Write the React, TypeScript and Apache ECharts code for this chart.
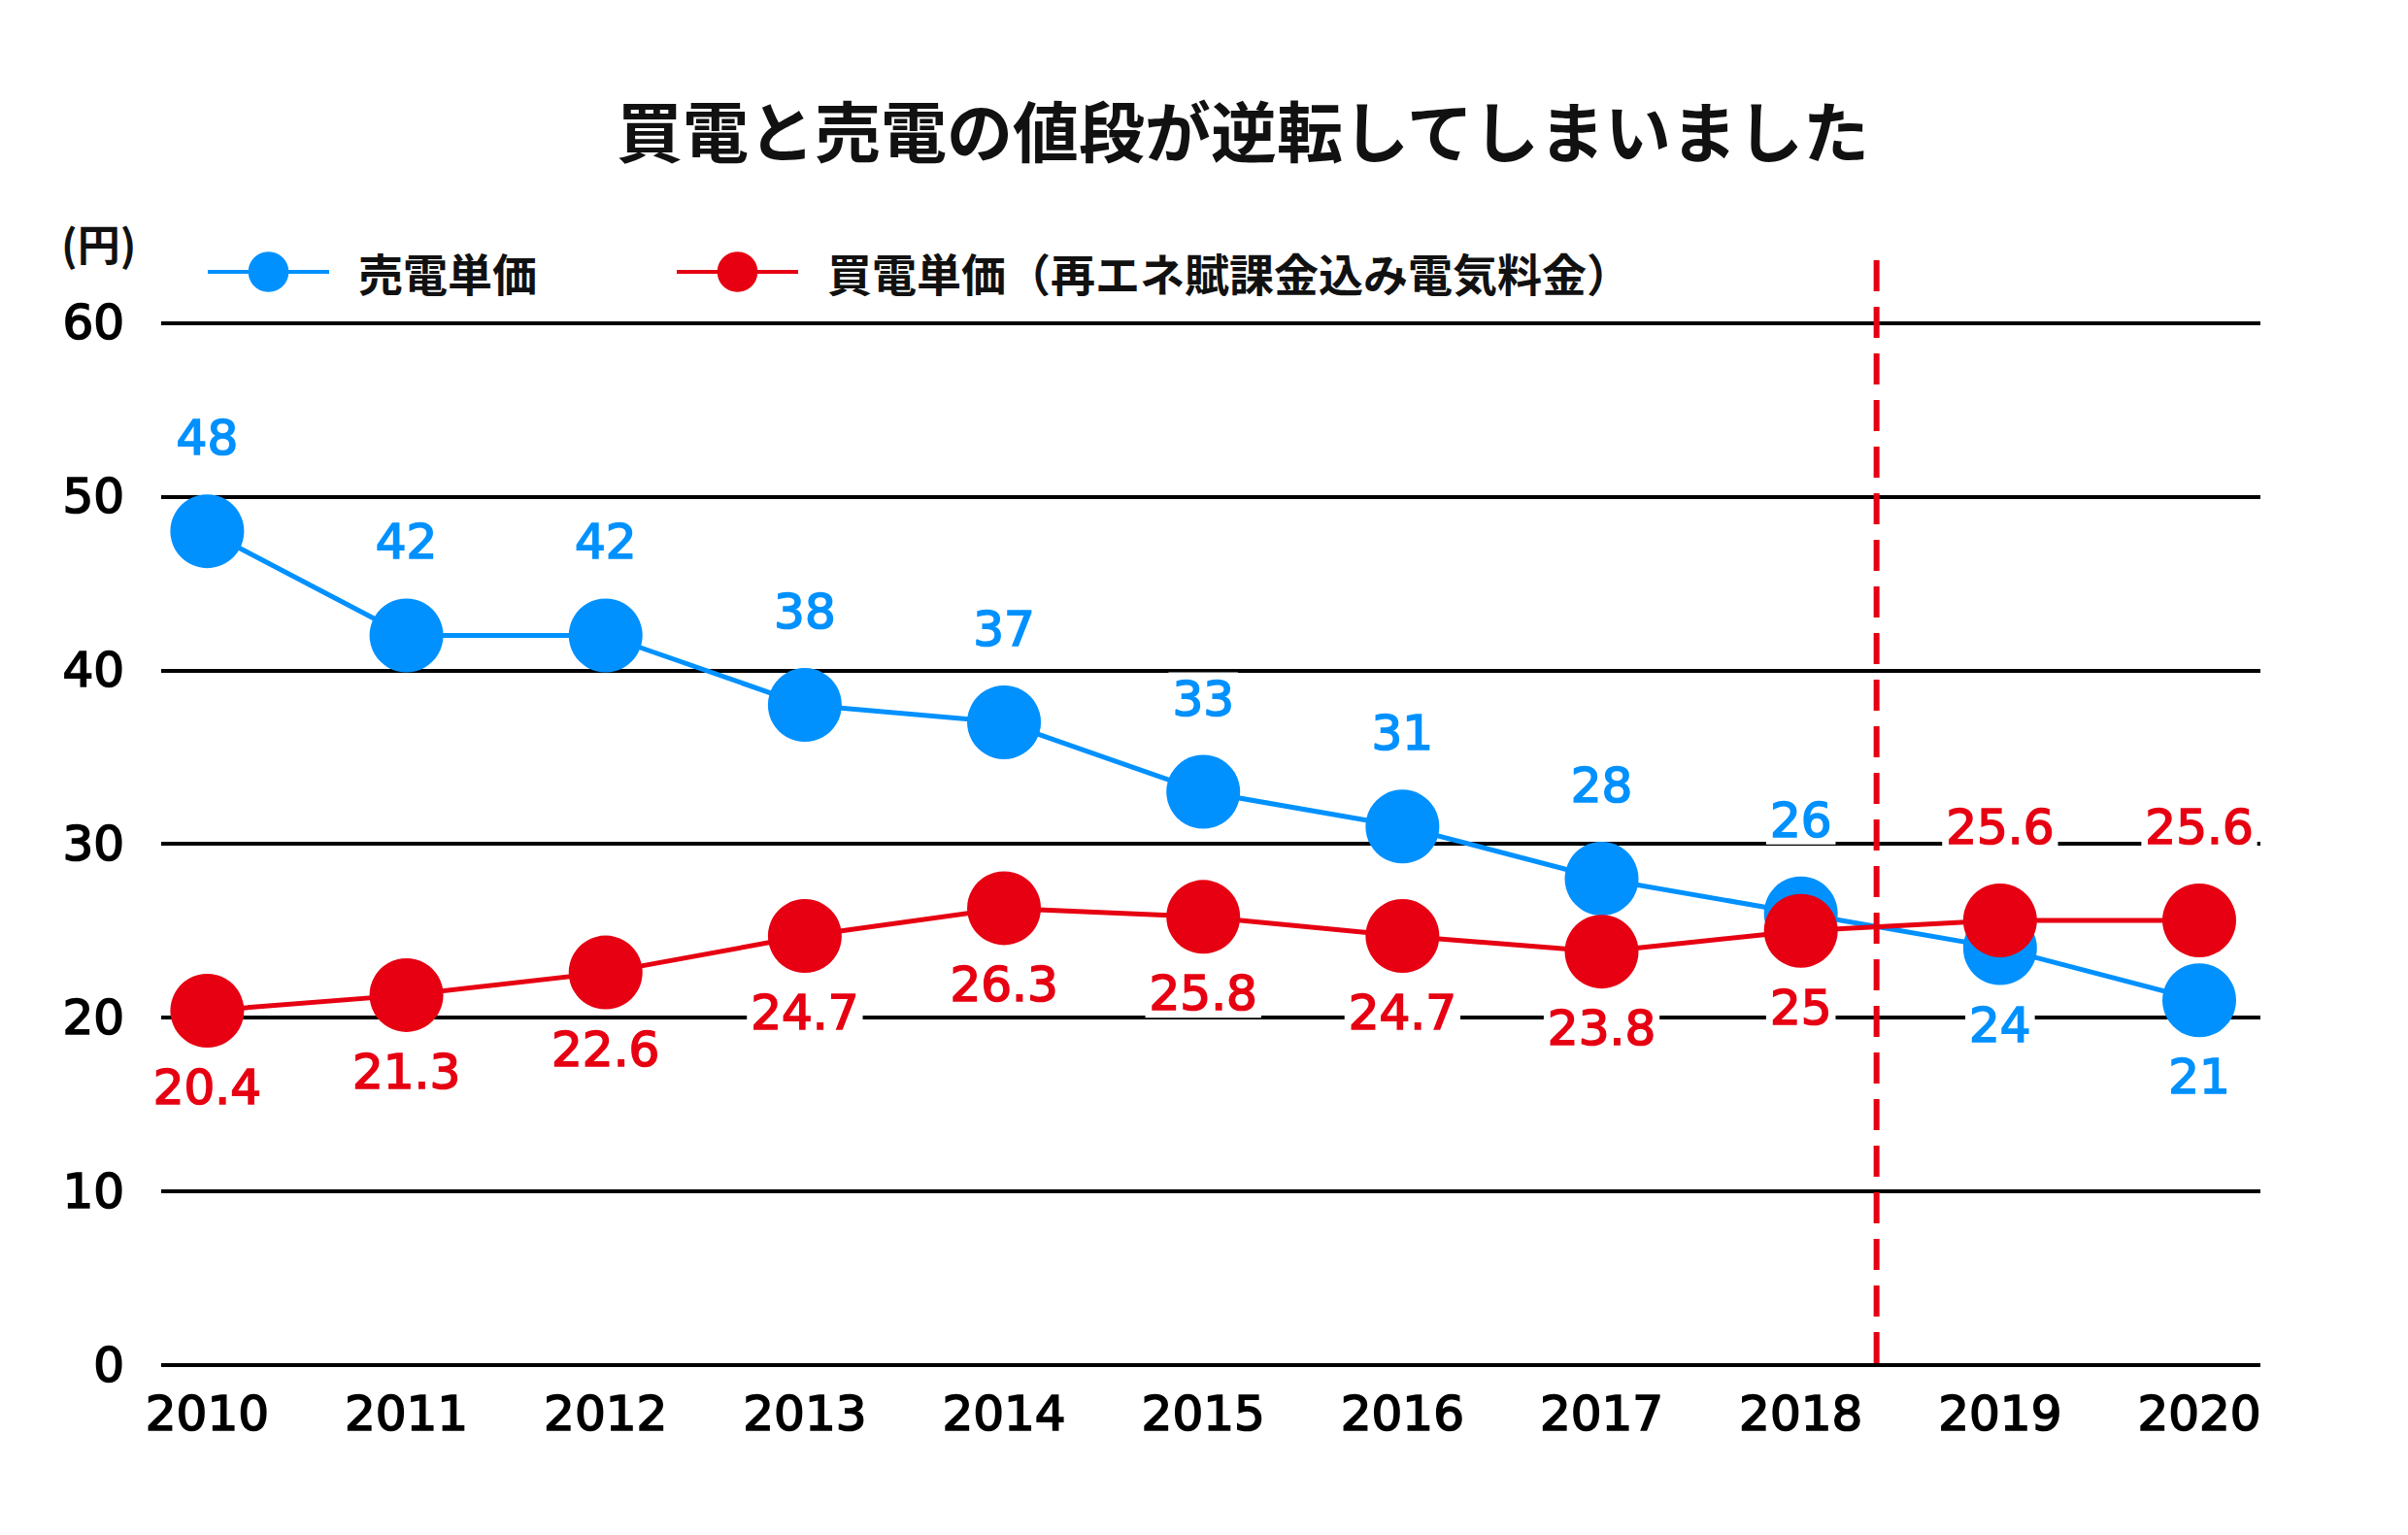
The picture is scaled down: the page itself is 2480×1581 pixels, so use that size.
import React, { useEffect, useRef } from "react";
import * as echarts from "echarts";

// ---- data ----
const years = ["2010", "2011", "2012", "2013", "2014", "2015", "2016", "2017", "2018", "2019", "2020"];
const sellPrice = [48, 42, 42, 38, 37, 33, 31, 28, 26, 24, 21];
const buyPrice = [20.4, 21.3, 22.6, 24.7, 26.3, 25.8, 24.7, 23.8, 25, 25.6, 25.6];
const yTicks = [0, 10, 20, 30, 40, 50, 60];
const dividerAt = 8.38; // between 2018 and 2019, in category-index units
const sellName = "売電単価";
const buyName = "買電単価（再エネ賦課金込み電気料金）";
const titleText = "買電と売電の値段が逆転してしまいました";
const unitText = "(円)";

const BLUE = "#0091FF";
const RED = "#E60012";
const FONT = "'Noto Sans CJK JP', 'Noto Sans', sans-serif";
const NUM_FONT = "'DejaVu Sans', 'Liberation Sans', sans-serif";
const EMBOLDEN = 1.7;

export default function App() {
  const ref = useRef<HTMLDivElement>(null);

  useEffect(() => {
    if (!ref.current) return;
    const chart = echarts.init(ref.current, undefined, { renderer: "svg" });
    const yTop = 63.6;

    const labelBase = {
      show: true,
      fontSize: 50,
      fontFamily: NUM_FONT,
      fontWeight: "normal",
      backgroundColor: "#fff",
      padding: [2, 4, 0, 4],
      textBorderWidth: EMBOLDEN,
      formatter: (p: any) => String(p.value[1]),
    };
    const TOP_D = 33;
    const BOTTOM_D = 14;

    chart.setOption({
      animation: false,
      backgroundColor: "#fff",
      textStyle: { fontFamily: FONT },
      title: {
        text: titleText,
        left: 635,
        top: 98,
        padding: 0,
        textStyle: { fontSize: 68, fontWeight: "bold", color: "#111", fontFamily: FONT },
      },
      legend: {
        data: [sellName, buyName],
        left: 212,
        top: 257,
        padding: 0,
        itemWidth: 125,
        itemHeight: 52,
        itemGap: 142,
        lineStyle: { width: 4 },
        textStyle: {
          fontSize: 46,
          fontWeight: "bold",
          color: "#111",
          fontFamily: FONT,
          padding: [0, 0, 0, 25],
        },
      },
      graphic: [
        {
          type: "text",
          left: 63,
          top: 228,
          style: { text: unitText, fontSize: 44, fontWeight: "bold", fill: "#111", fontFamily: FONT },
        },
      ],
      grid: { left: 166, right: 152, top: 268, bottom: 175 },
      xAxis: {
        type: "value",
        min: -0.231,
        max: 10.307,
        splitLine: { show: false },
        axisLine: { show: false },
        axisTick: { show: false },
        axisLabel: {
          customValues: years.map((_, i) => i),
          formatter: (v: number) => years[Math.round(v)] ?? "",
          fontSize: 50,
          fontWeight: "normal",
          color: "#000",
          textBorderColor: "#000",
          textBorderWidth: EMBOLDEN,
          margin: 25,
          fontFamily: NUM_FONT,
        },
      },
      yAxis: {
        type: "value",
        min: 0,
        max: yTop,
        interval: 10,
        axisLine: { show: false },
        axisTick: { show: false },
        splitLine: { show: true, showMaxLine: false, lineStyle: { color: "#000", width: 4 } },
        axisLabel: {
          showMaxLabel: false,
          formatter: (v: number) => (yTicks.includes(v) ? String(v) : ""),
          fontSize: 50,
          fontWeight: "normal",
          color: "#000",
          textBorderColor: "#000",
          textBorderWidth: EMBOLDEN,
          margin: 38,
          fontFamily: NUM_FONT,
        },
      },
      series: [
        {
          name: sellName,
          type: "line",
          symbol: "circle",
          symbolSize: 76,
          lineStyle: { color: BLUE, width: 5 },
          itemStyle: { color: BLUE },
          label: { ...labelBase, color: BLUE, textBorderColor: BLUE, position: "top", distance: TOP_D },
          data: sellPrice.map((v, i) => {
            const below = v < buyPrice[i];
            return {
              value: [i, v],
              label: { position: below ? "bottom" : "top", distance: below ? BOTTOM_D : TOP_D },
            };
          }),
          z: 3,
        },
        {
          name: buyName,
          type: "line",
          symbol: "circle",
          symbolSize: 76,
          lineStyle: { color: RED, width: 5 },
          itemStyle: { color: RED },
          label: { ...labelBase, color: RED, textBorderColor: RED, position: "bottom", distance: BOTTOM_D },
          data: buyPrice.map((v, i) => {
            const above = v > sellPrice[i];
            return {
              value: [i, v],
              label: { position: above ? "top" : "bottom", distance: above ? TOP_D : BOTTOM_D },
            };
          }),
          z: 4,
        },
        {
          name: "divider",
          type: "line",
          symbol: "none",
          silent: true,
          lineStyle: { color: RED, width: 6, type: [32, 16] },
          data: [
            [dividerAt, yTop],
            [dividerAt, 0],
          ],
          z: 5,
        },
      ],
    });

    return () => chart.dispose();
  }, []);

  return (
    <div
      ref={ref}
      style={{ position: "fixed", left: 0, top: 0, width: 2480, height: 1581, background: "#fff" }}
    />
  );
}
